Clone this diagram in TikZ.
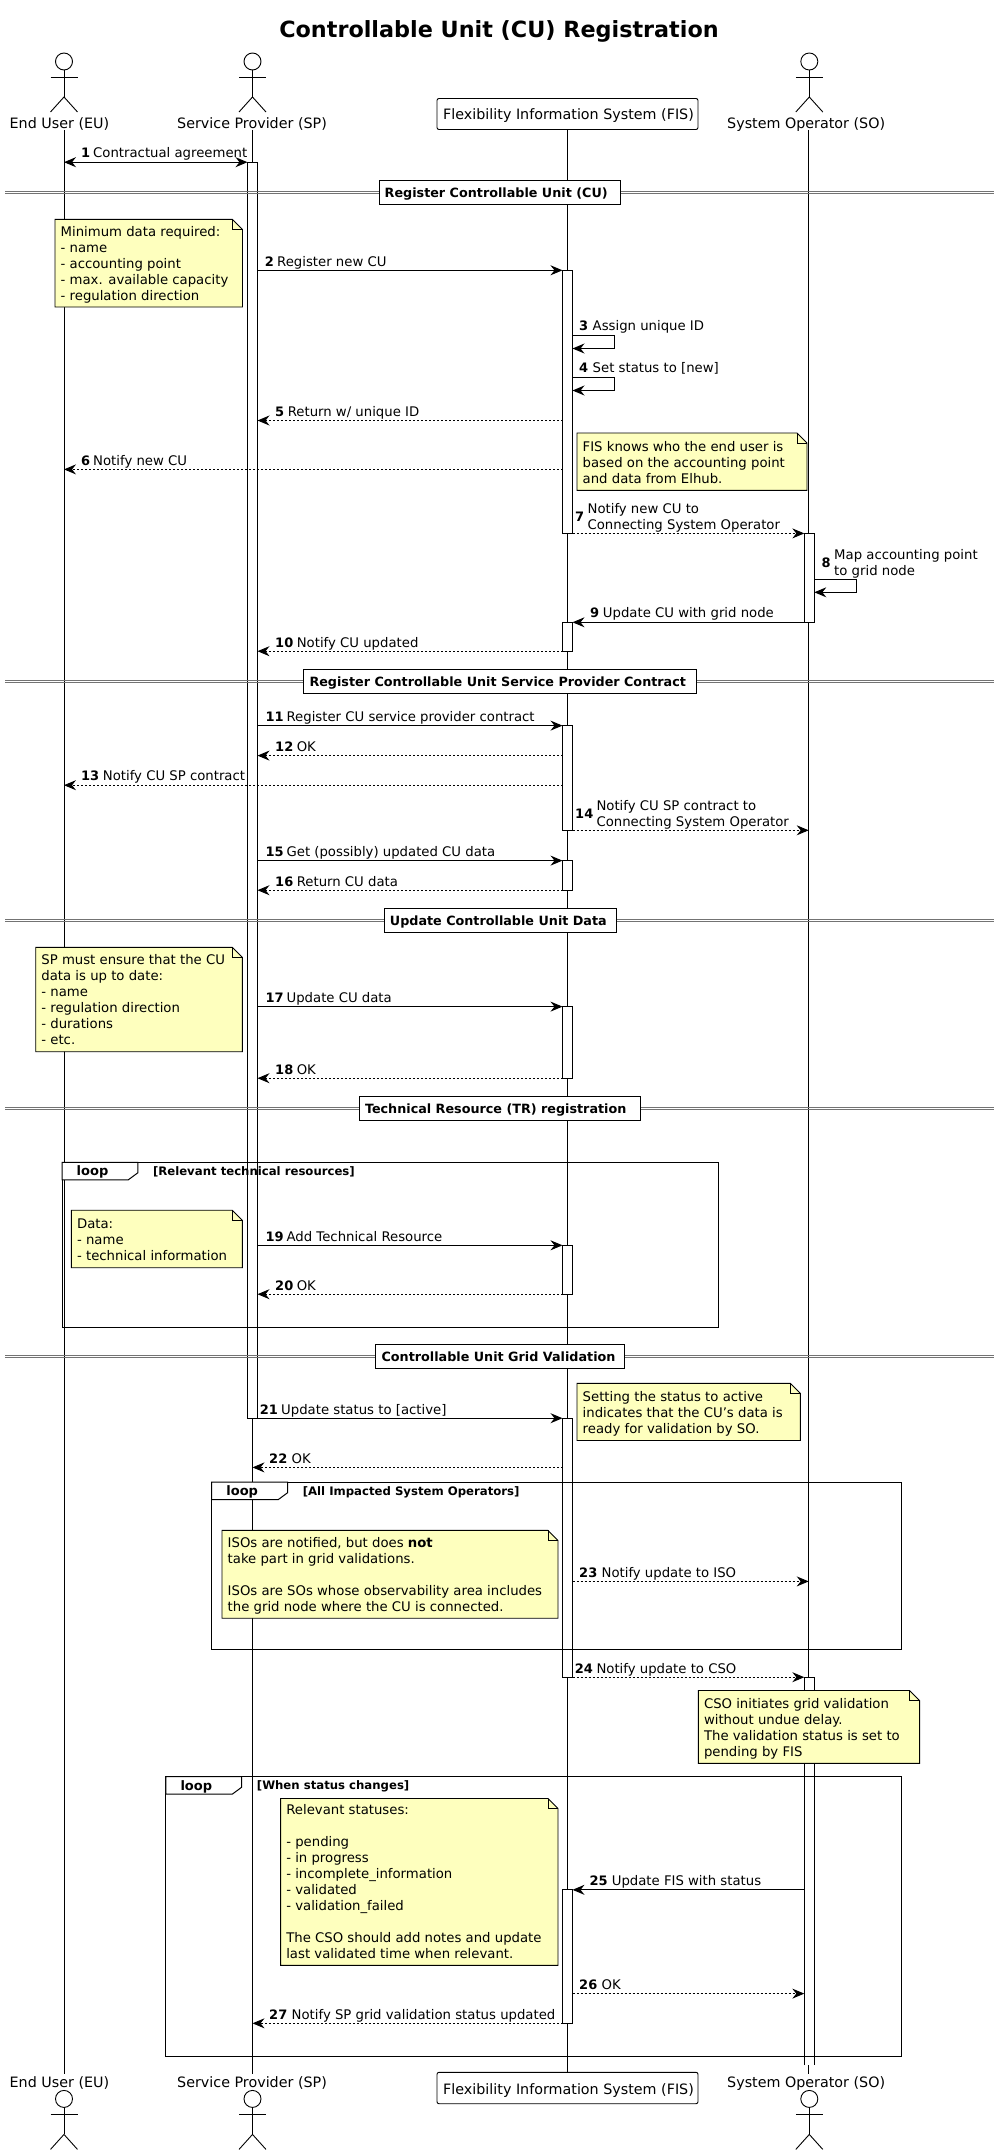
\documentclass[tikz,border=0pt]{standalone}
\usepackage{fontspec}
\setmainfont{DejaVu Sans}
\usepackage{tikz}
\usetikzlibrary{arrows.meta, calc}
\definecolor{notefill}{HTML}{FEFFBE}
\newcommand{\actorfig}[3]{% name, x, y of head top
    \coordinate (#1) at (#2,#3);
    \draw[figline] ($(#1)+(0,8.5)$) circle (8.5);
    \draw[figline] ($(#1)+(0,17)$) -- ($(#1)+(0,44)$);
    \draw[figline] ($(#1)+(-13.5,24)$) -- ($(#1)+(13.5,24)$);
    \draw[figline] ($(#1)+(-13.5,59)$) -- ($(#1)+(0,44)$) -- ($(#1)+(13.5,59)$);
}
\newcommand{\notebox}[6]{% name, x1, y1, x2, y2, text
    \filldraw[notebg] (#2,#3) -- ({#4-10},#3) -- (#4,{#3+10}) -- (#4,#5) -- (#2,#5) -- cycle;
    \draw[notebg, fill=none] ({#4-10},#3) -- ({#4-10},{#3+10}) -- (#4,{#3+10});
    \node[notetext] (#1) at ({#2+5.5},{#5-6.8}) {#6};
}
\newcommand{\splitbar}[5]{% name, x1, y1, x2, y2 of the label box around a double line
    \draw[splitline] (5,{(#3+#5)/2-1.3}) -- (994,{(#3+#5)/2-1.3});
    \draw[splitline] (5,{(#3+#5)/2+1.3}) -- (994,{(#3+#5)/2+1.3});
    \node[splitbox, minimum width={#4-#2}, minimum height={#5-#3}] (#1) at ({(#2+#4)/2},{(#3+#5)/2}) {};
}
\newcommand{\loopframe}[7]{% name, x1, y1, x2, y2, tab x, guard
    \draw[frameline] (#2,#3) rectangle (#4,#5);
    \filldraw[frameline, fill=white] (#2,#3) -- (#6,#3) -- (#6,{#3+10.5}) -- ({#6-9.5},{#3+17.5}) -- (#2,{#3+17.5}) -- cycle;
    \node[looptext] (#1) at ({#2+14.5},{#3+13.5}) {loop};
    \node[guardtext] (#1g) at ({#6+15},{#3+13}) {#7};
}
\begin{document}
\begin{tikzpicture}[x=1pt, y=-1pt,
            figline/.style={black, line width=0.9pt},
            lifeline/.style={black, line width=0.9pt},
            actbar/.style={draw=black, fill=white, line width=0.9pt},
            notebg/.style={draw=black, fill=notefill, line width=0.9pt},
            notetext/.style={anchor=base west, inner sep=0pt, align=left, font=\fontsize{13.25}{16}\selectfont},
            splitline/.style={draw=black!55, line width=0.9pt},
            splitbox/.style={draw=black, fill=white, line width=1pt, inner sep=0pt},
            splittext/.style={anchor=base west, inner sep=0pt, font=\fontsize{12.75}{16}\selectfont\bfseries},
            frameline/.style={draw=black, line width=1pt},
            looptext/.style={anchor=base west, inner sep=0pt, font=\fontsize{13}{16}\selectfont\bfseries},
            guardtext/.style={anchor=base west, inner sep=0pt, font=\fontsize{11.7}{13}\selectfont\bfseries},
            partytext/.style={anchor=base west, inner sep=0pt, font=\fontsize{14.3}{17}\selectfont},
            numtext/.style={anchor=base west, inner sep=0pt, font=\fontsize{13}{16}\selectfont\bfseries},
            msgtext/.style={anchor=base west, inner sep=0pt, align=left, font=\fontsize{13.25}{16}\selectfont},
            sync/.style={black, line width=1.1pt, -{Stealth[length=12pt, width=10pt, inset=4pt]}},
            reply/.style={black, line width=0.9pt, dash pattern=on 2pt off 2pt, -{Stealth[length=12pt, width=10pt, inset=4pt]}}]

    \useasboundingbox (0,0) rectangle (1000,2154);

    \node[anchor=base, inner sep=0pt, font=\fontsize{22.3}{28}\selectfont\bfseries] (title) at (499,38) {Controllable Unit (CU) Registration};

    % lifelines
    \coordinate (euT) at (64,130); \coordinate (euB) at (64,2074);
    \coordinate (spT) at (252,130); \coordinate (spB) at (252,2074);
    \coordinate (fisT) at (567.5,130); \coordinate (fisB) at (567.5,2072);
    \coordinate (soT) at (808.7,130); \coordinate (soB) at (808.7,2074);
    \draw[lifeline] (euT) -- (euB);
    \draw[lifeline] (spT) -- (spB);
    \draw[lifeline] (fisT) -- (fisB);
    \draw[lifeline] (soT) -- (soB);

    % activations
    \node[actbar, minimum width=10pt, minimum height=1256pt, inner sep=0pt] (spbar) at (252.5,790.1) {};
    \node[actbar, minimum width=10pt, minimum height=263.1pt, inner sep=0pt] (fisbarA) at (567.5,401.85) {};
    \node[actbar, minimum width=10pt, minimum height=28.9pt, inner sep=0pt] (fisbarB) at (567.5,636.75) {};
    \node[actbar, minimum width=10pt, minimum height=104.7pt, inner sep=0pt] (fisbarC) at (567.5,777.95) {};
    \node[actbar, minimum width=10pt, minimum height=29.6pt, inner sep=0pt] (fisbarD) at (567.5,875.4) {};
    \node[actbar, minimum width=10pt, minimum height=71.6pt, inner sep=0pt] (fisbarE) at (567.5,1042.4) {};
    \node[actbar, minimum width=10pt, minimum height=48.9pt, inner sep=0pt] (fisbarF) at (567.5,1269.75) {};
    \node[actbar, minimum width=10pt, minimum height=259pt, inner sep=0pt] (fisbarG) at (567.5,1547.7) {};
    \node[actbar, minimum width=10pt, minimum height=133.5pt, inner sep=0pt] (fisbarH) at (567.5,1956.55) {};
    \node[actbar, minimum width=10pt, minimum height=88.9pt, inner sep=0pt] (sobarA) at (809.3,577.85) {};
    \coordinate (sobarBa) at (804.3,2065.2); \coordinate (sobarBb) at (804.3,1677.2);
    \coordinate (sobarBc) at (814.3,1677.2); \coordinate (sobarBd) at (814.3,2065.2);
    \filldraw[actbar] (sobarBa) -- (sobarBb) -- (sobarBc) -- (sobarBd);

    % participants, top
    \actorfig{euhead}{64}{53}
    \actorfig{sphead}{252.5}{53}
    \actorfig{sohead}{809.3}{53}
    \node[partytext] (eulabel) at (9.5,128.5) {End User (EU)};
    \node[partytext] (splabel) at (177,128.5) {Service Provider (SP)};
    \node[partytext] (solabel) at (727,128.5) {System Operator (SO)};
    \node[draw=black, fill=white, line width=0.9pt, rounded corners=2pt, minimum width=261pt, minimum height=31pt, inner sep=0pt] (fisbox) at (567.5,114) {};
    \node[partytext] (fislabel) at (443,120) {Flexibility Information System (FIS)};

    % participants, bottom
    \actorfig{euheadB}{64}{2090.4}
    \actorfig{spheadB}{252.5}{2090.4}
    \actorfig{soheadB}{809.3}{2090.4}
    \node[partytext] (eulabelB) at (9.5,2087) {End User (EU)};
    \node[partytext] (splabelB) at (177,2087) {Service Provider (SP)};
    \node[partytext] (solabelB) at (727,2087) {System Operator (SO)};
    \node[draw=black, fill=white, line width=0.9pt, rounded corners=2pt, minimum width=261pt, minimum height=31.4pt, inner sep=0pt] (fisboxB) at (567.5,2088) {};
    \node[partytext] (fislabelB) at (443,2094) {Flexibility Information System (FIS)};

    % frames
    \loopframe{loopA}{62}{1162.3}{718}{1327.2}{137.8}{[Relevant technical resources]}
    \loopframe{loopB}{211.7}{1482.2}{901}{1649.3}{287.6}{[All Impacted System Operators]}
    \loopframe{loopC}{165.8}{1776.7}{901}{2056.3}{241.7}{[When status changes]}

    % dividers
    \splitbar{splitA}{379.5}{180.5}{620.5}{204.5}
    \node[splittext] (splitAt) at (384.5,197) {Register Controllable Unit (CU)};
    \splitbar{splitB}{303.6}{669.5}{696.4}{693.6}
    \node[splittext] (splitBt) at (309.3,686) {Register Controllable Unit Service Provider Contract};
    \splitbar{splitC}{384}{908.5}{616}{932.6}
    \node[splittext] (splitCt) at (389.7,925) {Update Controllable Unit Data};
    \splitbar{splitD}{359}{1096.2}{640.3}{1120.6}
    \node[splittext] (splitDt) at (364.8,1113) {Technical Resource (TR) registration};
    \splitbar{splitE}{375.6}{1344.5}{624.4}{1368.6}
    \node[splittext] (splitEt) at (381.4,1361) {Controllable Unit Grid Validation};

    % notes
    \notebox{noteA}{55}{219.4}{242.5}{307}{Minimum data required:\\- name\\- accounting point\\- max. available capacity\\- regulation direction}
    \notebox{noteB}{577}{433}{807}{490.4}{FIS knows who the end user is\\based on the accounting point\\and data from Elhub.}
    \notebox{noteC}{35.7}{947.4}{242.3}{1051.7}{SP must ensure that the CU\\data is up to date:\\- name\\- regulation direction\\- durations\\- etc.}
    \notebox{noteD}{71.4}{1210.2}{242.3}{1267.7}{Data:\\- name\\- technical information}
    \notebox{noteE}{577}{1383.4}{800.4}{1440.5}{Setting the status to active\\indicates that the CU's data is\\ready for validation by SO.}
    \notebox{noteF}{222}{1530.4}{558}{1618.2}{ISOs are notified, but does \textbf{not}\\take part in grid validations.\\[16pt]ISOs are SOs whose observability area includes\\the grid node where the CU is connected.}
    \notebox{noteG}{698.3}{1690.5}{919.6}{1763.4}{CSO initiates grid validation\\without undue delay.\\The validation status is set to\\pending by FIS}
    \notebox{noteH}{280.6}{1798.5}{558}{1965.4}{Relevant statuses:\\[16pt]- pending\\- in progress\\- incomplete\_information\\- validated\\- validation\_failed\\[16pt]The CSO should add notes and update\\last validated time when relevant.}

    % messages
    \coordinate (m1a) at (64,162.2); \coordinate (m1b) at (247.5,162.2);
    \draw[sync, {Stealth[length=12pt, width=10pt, inset=4pt]}-{Stealth[length=12pt, width=10pt, inset=4pt]}] (m1a) -- (m1b);
    \node[numtext] (n1) at (81,158) {1};
    \node[msgtext] (t1) at (93,158) {Contractual agreement};

    \coordinate (m2a) at (257.5,270.3); \coordinate (m2b) at (562.5,270.3);
    \draw[sync] (m2a) -- (m2b);
    \node[numtext] (n2) at (264.7,266) {2};
    \node[msgtext] (t2) at (277,266) {Register new CU};

    \coordinate (m3a) at (572.5,335.4); \coordinate (m3b) at (572.5,348.5);
    \draw[sync] (m3a) -- ++(42,0) |- (m3b);
    \node[numtext] (n3) at (579,330) {3};
    \node[msgtext] (t3) at (592.5,330) {Assign unique ID};

    \coordinate (m4a) at (572.5,377.4); \coordinate (m4b) at (572.5,390.5);
    \draw[sync] (m4a) -- ++(42,0) |- (m4b);
    \node[numtext] (n4) at (579,372.5) {4};
    \node[msgtext] (t4) at (592.5,372.5) {Set status to [new]};

    \coordinate (m5a) at (562.5,420.5); \coordinate (m5b) at (257.5,420.5);
    \draw[reply] (m5a) -- (m5b);
    \node[numtext] (n5) at (275,416) {5};
    \node[msgtext] (t5) at (287.6,416) {Return w/ unique ID};

    \coordinate (m6a) at (562.5,469.4); \coordinate (m6b) at (64,469.4);
    \draw[reply] (m6a) -- (m6b);
    \node[numtext] (n6) at (81,465) {6};
    \node[msgtext] (t6) at (93,465) {Notify new CU};

    \coordinate (m7a) at (572.5,533.4); \coordinate (m7b) at (804.3,533.4);
    \draw[reply] (m7a) -- (m7b);
    \node[numtext] (n7) at (575,521) {7};
    \node[msgtext] (t7) at (587.4,529) {Notify new CU to\\Connecting System Operator};

    \coordinate (m8a) at (814.3,579.3); \coordinate (m8b) at (814.3,592.3);
    \draw[sync] (m8a) -- ++(42,0) |- (m8b);
    \node[numtext] (n8) at (821.4,567) {8};
    \node[msgtext] (t8) at (834,575) {Map accounting point\\to grid node};

    \coordinate (m9a) at (804.3,622.3); \coordinate (m9b) at (572.5,622.3);
    \draw[sync] (m9a) -- (m9b);
    \node[numtext] (n9) at (590,617.5) {9};
    \node[msgtext] (t9) at (602.7,617.5) {Update CU with grid node};

    \coordinate (m10a) at (562.5,651.2); \coordinate (m10b) at (257.5,651.2);
    \draw[reply] (m10a) -- (m10b);
    \node[numtext] (n10) at (275,647) {10};
    \node[msgtext] (t10) at (296.6,647) {Notify CU updated};

    \coordinate (m11a) at (257.5,725.6); \coordinate (m11b) at (562.5,725.6);
    \draw[sync] (m11a) -- (m11b);
    \node[numtext] (n11) at (265.3,721) {11};
    \node[msgtext] (t11) at (286.4,721) {Register CU service provider contract};

    \coordinate (m12a) at (562.5,755.6); \coordinate (m12b) at (257.5,755.6);
    \draw[reply] (m12a) -- (m12b);
    \node[numtext] (n12) at (275,751) {12};
    \node[msgtext] (t12) at (296.6,751) {OK};

    \coordinate (m13a) at (562.5,785.2); \coordinate (m13b) at (64,785.2);
    \draw[reply] (m13a) -- (m13b);
    \node[numtext] (n13) at (81,780.5) {13};
    \node[msgtext] (t13) at (102.7,780.5) {Notify CU SP contract};

    \coordinate (m14a) at (572.5,830.3); \coordinate (m14b) at (808.7,830.3);
    \draw[reply] (m14a) -- (m14b);
    \node[numtext] (n14) at (575,818) {14};
    \node[msgtext] (t14) at (596.3,826) {Notify CU SP contract to\\Connecting System Operator};

    \coordinate (m15a) at (257.5,860.6); \coordinate (m15b) at (562.5,860.6);
    \draw[sync] (m15a) -- (m15b);
    \node[numtext] (n15) at (265.3,856) {15};
    \node[msgtext] (t15) at (286.4,856) {Get (possibly) updated CU data};

    \coordinate (m16a) at (562.5,890.2); \coordinate (m16b) at (257.5,890.2);
    \draw[reply] (m16a) -- (m16b);
    \node[numtext] (n16) at (275,886) {16};
    \node[msgtext] (t16) at (296.6,886) {Return CU data};

    \coordinate (m17a) at (257.5,1006.6); \coordinate (m17b) at (562.5,1006.6);
    \draw[sync] (m17a) -- (m17b);
    \node[numtext] (n17) at (265.3,1002) {17};
    \node[msgtext] (t17) at (286.4,1002) {Update CU data};

    \coordinate (m18a) at (562.5,1078.2); \coordinate (m18b) at (257.5,1078.2);
    \draw[reply] (m18a) -- (m18b);
    \node[numtext] (n18) at (275,1074) {18};
    \node[msgtext] (t18) at (296.6,1074) {OK};

    \coordinate (m19a) at (257.5,1245.3); \coordinate (m19b) at (562.5,1245.3);
    \draw[sync] (m19a) -- (m19b);
    \node[numtext] (n19) at (265.3,1241) {19};
    \node[msgtext] (t19) at (286.4,1241) {Add Technical Resource};

    \coordinate (m20a) at (562.5,1294.2); \coordinate (m20b) at (257.5,1294.2);
    \draw[reply] (m20a) -- (m20b);
    \node[numtext] (n20) at (275,1290) {20};
    \node[msgtext] (t20) at (296.6,1290) {OK};

    \coordinate (m21a) at (257.5,1418.2); \coordinate (m21b) at (562.5,1418.2);
    \draw[sync] (m21a) -- (m21b);
    \node[numtext] (n21) at (259.6,1414) {21};
    \node[msgtext] (t21) at (281,1414) {Update status to [active]};

    \coordinate (m22a) at (562.5,1467.4); \coordinate (m22b) at (252.5,1467.4);
    \draw[reply] (m22a) -- (m22b);
    \node[numtext] (n22) at (269,1463) {22};
    \node[msgtext] (t22) at (291.5,1463) {OK};

    \coordinate (m23a) at (572.5,1581.4); \coordinate (m23b) at (808.7,1581.4);
    \draw[reply] (m23a) -- (m23b);
    \node[numtext] (n23) at (579,1577) {23};
    \node[msgtext] (t23) at (601.4,1577) {Notify update to ISO};

    \coordinate (m24a) at (572.5,1677.2); \coordinate (m24b) at (804.3,1677.2);
    \draw[reply] (m24a) -- (m24b);
    \node[numtext] (n24) at (574.6,1673) {24};
    \node[msgtext] (t24) at (596.3,1673) {Notify update to CSO};

    \coordinate (m25a) at (804.3,1889.8); \coordinate (m25b) at (572.5,1889.8);
    \draw[sync] (m25a) -- (m25b);
    \node[numtext] (n25) at (589.3,1885.5) {25};
    \node[msgtext] (t25) at (611.6,1885.5) {Update FIS with status};

    \coordinate (m26a) at (572.5,1993.6); \coordinate (m26b) at (804.3,1993.6);
    \draw[reply] (m26a) -- (m26b);
    \node[numtext] (n26) at (579,1989.3) {26};
    \node[msgtext] (t26) at (601.4,1989.3) {OK};

    \coordinate (m27a) at (562.5,2023.3); \coordinate (m27b) at (252.5,2023.3);
    \draw[reply] (m27a) -- (m27b);
    \node[numtext] (n27) at (269,2019) {27};
    \node[msgtext] (t27) at (291.5,2019) {Notify SP grid validation status updated};

\end{tikzpicture}
\end{document}
